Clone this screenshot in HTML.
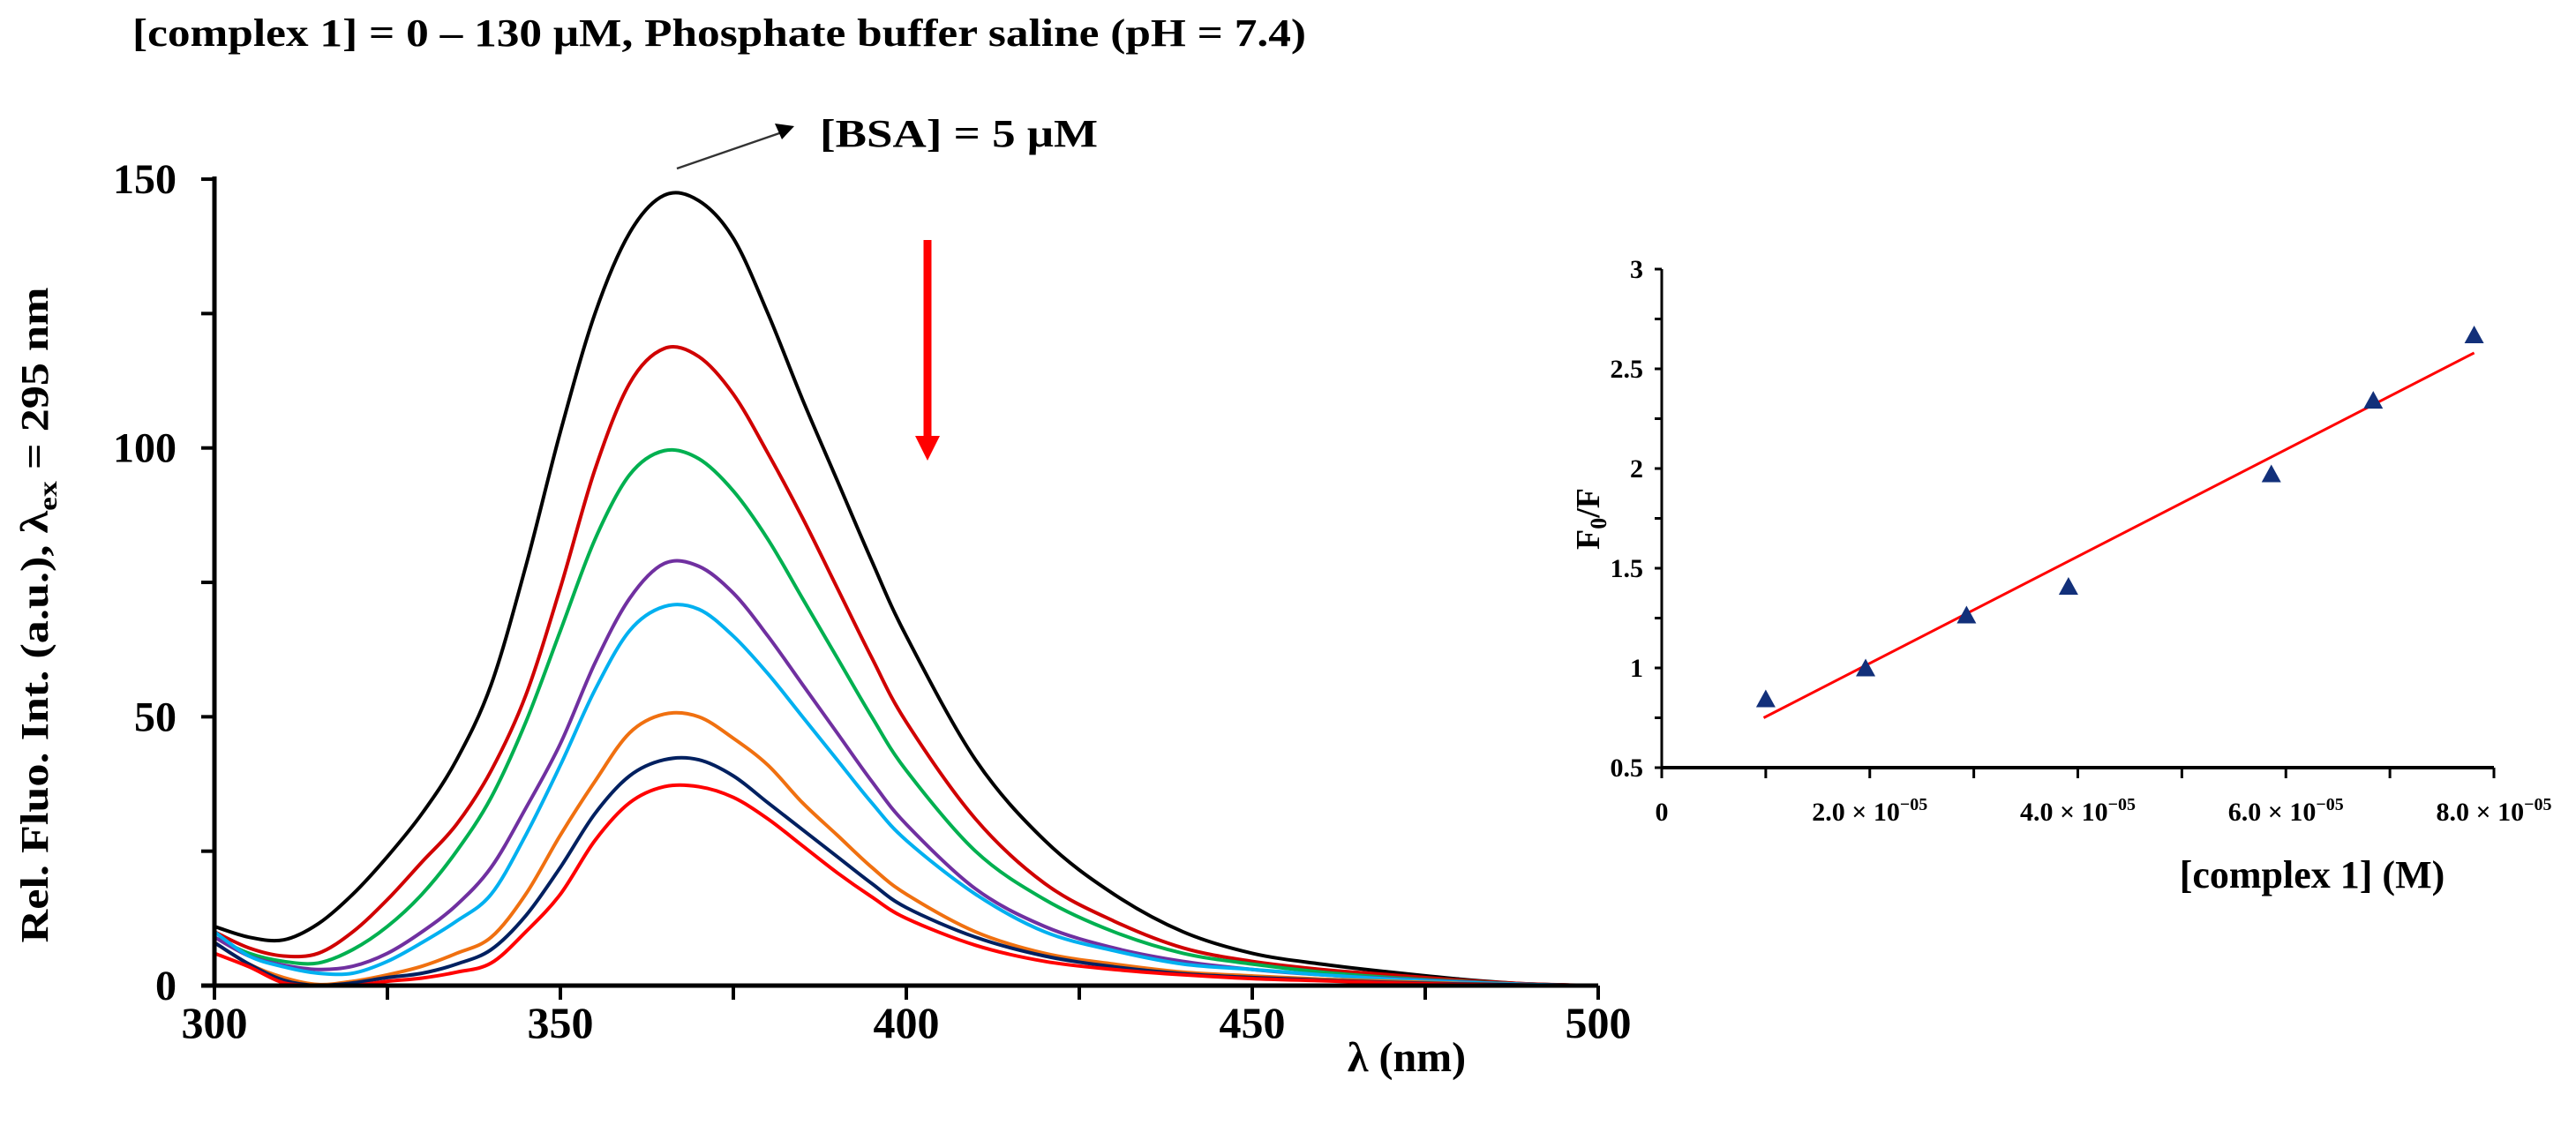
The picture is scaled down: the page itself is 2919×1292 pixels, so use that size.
<!DOCTYPE html>
<html><head><meta charset="utf-8"><style>
html,body{margin:0;padding:0;background:#fff;}
svg{display:block;}
svg text{font-family:"Liberation Serif","Times New Roman",serif;font-weight:bold;}
</style></head><body>
<svg id="fig" width="2919" height="1292" viewBox="0 0 2919 1292" xmlns="http://www.w3.org/2000/svg" font-family="Liberation Serif, serif" font-weight="bold">
<rect width="2919" height="1292" fill="#fff"/>
<text x="150" y="52" font-size="44" textLength="1330" lengthAdjust="spacingAndGlyphs">[complex 1] = 0 – 130 μM, Phosphate buffer saline (pH = 7.4)</text>
<text x="929" y="166" font-size="44" textLength="315" lengthAdjust="spacingAndGlyphs">[BSA] = 5 μM</text>
<line x1="767" y1="191" x2="886" y2="150" stroke="#333" stroke-width="2.5"/>
<polygon points="900,143 878,140 886,158" fill="#000"/>
<rect x="1046.5" y="272" width="9" height="224" fill="#ff0000"/>
<polygon points="1037,494 1065,494 1051,522" fill="#ff0000"/>
<g id="main"></g>
<g id="inset"></g>
</svg>
<script>
// ---- main spectra data ----
const wavelengths=[300,305,310,315,320,325,330,335,340,345,350,355,360,365,370,375,380,385,390,395,400,410,420,430,440,450,460,470,480,490,500];
const sBlack=[11,9,8.5,11.5,17,24,32,42,56,78,103,125,140,147,146,139,125,109,94,79,65,42,27,17,10,6,4,2.5,1.2,0.3,0];
const sDarkRed=[10,7,5.5,6,10,16,23,30,40,54,74,96,112,118.5,117,110,99,87,74,61,49,31,19,12,7,4.5,3,2,1,0.3,0];
const sGreen=[9,6,4.5,4.2,6.7,11,17,25,35,49,66,83,95,99.5,98,92,83,72,61,50,40,25,16,10,6,4,2.5,1.5,0.8,0.2,0];
const sPurple=[9,5.5,3.8,3,3.6,6,10,15,22,33,45,60,72,78.5,78,73,65,56,47,38,30,18,11,7,4.5,3,2,1.3,0.7,0.2,0];
const sBlue=[10,5.5,3.5,2.3,2.3,4.5,8,12,17,28,41,55,66,70.5,70,65,58,50,42,34,27,17,10,6.5,4,3,2,1.2,0.6,0.2,0];
const sOrange=[8,4,1.5,0.2,0.8,2,3.6,6,9,17,28,38,47,50.5,50,46,41,34,28,22,17,10,6,4,2.5,1.8,1.2,0.8,0.4,0.1,0];
const sNavy=[8,4,1,0,0.5,1.5,2.3,4,6.7,13,22,32,39,42,42,39,34,29,24,19,14.5,9,5.5,3.5,2.2,1.5,1,0.6,0.3,0.1,0];
const sRed=[6,3.5,0.5,0,0,0.8,1.4,2.5,4.2,10,17,27,34,37,37,35,31,26,21,16.5,12.5,7.5,4.5,3,2,1.3,0.9,0.5,0.2,0,0];
const seriesList=[sBlack,sDarkRed,sGreen,sPurple,sBlue,sOrange,sNavy,sRed];
const seriesColors=["#000000","#d00000","#00b050","#7030a0","#00b0f0","#f07010","#002060","#ff0000"];
const seriesNames=["spectrum-0uM","spectrum-2","spectrum-3","spectrum-4","spectrum-5","spectrum-6","spectrum-7","spectrum-130uM"];
const xTicksMain=[300,325,350,375,400,425,450,475,500];
const xLabelsMain=[300,350,400,450,500];
const yTicksMain=[0,25,50,75,100,125,150];
const yLabelsMain=[0,50,100,150];
// ---- inset data ----
const conc=[1.0e-5,1.96e-5,2.93e-5,3.91e-5,5.86e-5,6.84e-5,7.81e-5];
const f0f=[0.843,0.998,1.263,1.407,1.971,2.34,2.668];
const fitX=[0.98e-5,7.81e-5];
const fitY=[0.75,2.58];
const insetYTicks=[0.5,0.75,1,1.25,1.5,1.75,2,2.25,2.5,2.75,3];
const insetYLabels=["0.5","1","1.5","2","2.5","3"];
const insetXTicks=[0,1e-5,2e-5,3e-5,4e-5,5e-5,6e-5,7e-5,8e-5];
const insetXLabels=[0,2e-5,4e-5,6e-5,8e-5];

const NS="http://www.w3.org/2000/svg";
function mk(parent,tag,attrs,text){const e=document.createElementNS(NS,tag);for(const k in attrs)e.setAttribute(k,attrs[k]);if(text!==undefined)e.textContent=text;parent.appendChild(e);return e;}
const X=l=>243+(l-300)*7.84;
const Y=v=>1117-v*6.093;
const main=document.getElementById('main');

function smooth(pts){let d=`M${pts[0][0]},${pts[0][1]}`;for(let i=0;i<pts.length-1;i++){const p0=pts[Math.max(0,i-1)],p1=pts[i],p2=pts[i+1],p3=pts[Math.min(pts.length-1,i+2)];
let c1y=p1[1]+(p2[1]-p0[1])/6,c2y=p2[1]-(p3[1]-p1[1])/6;c1y=Math.min(c1y,1117);c2y=Math.min(c2y,1117);
d+=` C${p1[0]+(p2[0]-p0[0])/6},${c1y} ${p2[0]-(p3[0]-p1[0])/6},${c2y} ${p2[0]},${p2[1]}`;}return d;}

seriesList.forEach((s,i)=>{
 const pts=wavelengths.map((w,j)=>[X(w),Y(s[j])]);
 const p=mk(main,'path',{d:smooth(pts),fill:'none',stroke:seriesColors[i],'stroke-width':4,'stroke-linejoin':'round'});
 
 
});
// axes
let a=mk(main,'line',{x1:243,y1:200,x2:243,y2:1117,stroke:'#000','stroke-width':5});


a=mk(main,'line',{x1:228,y1:1117,x2:1811,y2:1117,stroke:'#000','stroke-width':5});


yTicksMain.forEach(v=>{const t=mk(main,'line',{x1:228,y1:Y(v),x2:243,y2:Y(v),stroke:'#000','stroke-width':4});
 
 });
yLabelsMain.forEach(v=>{const t=mk(main,'text',{x:200,y:Y(v)+16,'font-size':48,'text-anchor':'end'},String(v));
 
 });
xTicksMain.forEach(v=>{const t=mk(main,'line',{x1:X(v),y1:1117,x2:X(v),y2:1133,stroke:'#000','stroke-width':4});
 
 });
xLabelsMain.forEach(v=>{const t=mk(main,'text',{x:X(v),y:1176,'font-size':50,'text-anchor':'middle'},String(v));
 
 });
let lab=mk(main,'text',{x:1594,y:1214,'font-size':48,'text-anchor':'middle'},'λ (nm)');


lab=mk(main,'text',{transform:'translate(54,697) rotate(-90)','font-size':44,'text-anchor':'middle',textLength:743,lengthAdjust:'spacingAndGlyphs'});


lab.innerHTML='Rel. Fluo. Int. (a.u.), λ<tspan font-size="30" dy="10">ex</tspan><tspan dy="-10"> = 295 nm</tspan>';

// ---- inset ----
const inset=document.getElementById('inset');
const IX=v=>1883+v/8e-5*943;
const IY=v=>870-(v-0.5)/2.5*565;
a=mk(inset,'line',{x1:1883,y1:IY(3),x2:1883,y2:870,stroke:'#000','stroke-width':3});


a=mk(inset,'line',{x1:1883,y1:870,x2:IX(8e-5),y2:870,stroke:'#000','stroke-width':4});


insetYTicks.forEach(v=>{const t=mk(inset,'line',{x1:1875,y1:IY(v),x2:1883,y2:IY(v),stroke:'#000','stroke-width':3});
 
 });
insetYLabels.forEach(s=>{const t=mk(inset,'text',{x:1862,y:IY(parseFloat(s))+10,'font-size':30,'text-anchor':'end'},s);
 
 });
insetXTicks.forEach(v=>{const t=mk(inset,'line',{x1:IX(v),y1:870,x2:IX(v),y2:882,stroke:'#000','stroke-width':3});
 
 });
insetXLabels.forEach(v=>{let t;
 if(v===0){t=mk(inset,'text',{x:IX(0),y:930,'font-size':30,'text-anchor':'middle'},'0');}
 else{t=mk(inset,'text',{x:IX(v),y:930,'font-size':30,'text-anchor':'middle'});
  t.innerHTML=(v*1e5).toFixed(1)+' × 10<tspan font-size="20" dy="-12">−05</tspan>';}
 
 });
lab=mk(inset,'text',{x:2620,y:1006,'font-size':44,'text-anchor':'middle'},'[complex 1] (M)');


lab=mk(inset,'text',{transform:'translate(1812,588) rotate(-90)','font-size':38,'text-anchor':'middle'});


lab.innerHTML='F<tspan font-size="26" dy="8">0</tspan><tspan dy="-8">/F</tspan>';
let fl=mk(inset,'line',{x1:IX(fitX[0]),y1:IY(fitY[0]),x2:IX(fitX[1]),y2:IY(fitY[1]),stroke:'#ff0000','stroke-width':3});


conc.forEach((c,i)=>{const x=IX(c),y=IY(f0f[i]);
 const m=mk(inset,'polygon',{points:`${x},${y-11} ${x-11},${y+9} ${x+11},${y+9}`,fill:'#12307a'});
 
 });
</script>
</body></html>
